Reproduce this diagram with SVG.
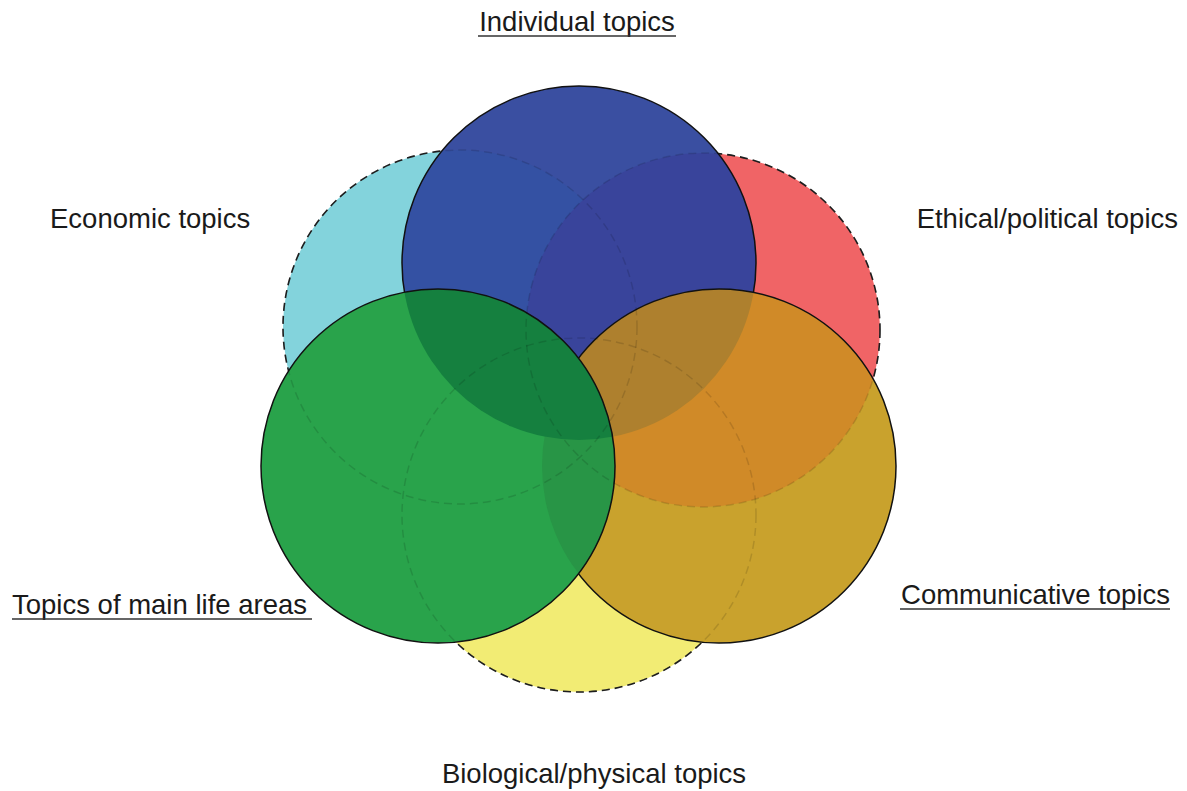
<svg xmlns="http://www.w3.org/2000/svg" width="1187" height="791" viewBox="0 0 1187 791">
<defs>
<clipPath id="cBlue"><circle cx="579" cy="263" r="177"/></clipPath>
<clipPath id="cOrange"><circle cx="719" cy="466" r="177"/></clipPath>
<clipPath id="cGreen"><circle cx="438" cy="466" r="177"/></clipPath>
</defs>
<style>
.dash{stroke:#222;stroke-width:1.6;stroke-dasharray:8 5}
.ghost{fill:none;stroke:#000;stroke-opacity:0.13;stroke-width:1.5;stroke-dasharray:8 5}
.edge{fill:none;stroke:#111;stroke-width:1.5}
.lbl{font-family:"Liberation Sans",Arial,sans-serif;font-size:27.5px;fill:#1a1a1a}
.ul{stroke:#333;stroke-width:1.6}
</style>
<rect width="1187" height="791" fill="#fff"/>
<g id="economic"><circle cx="460" cy="327" r="177" fill="#83D3DC" class="dash"/></g>
<g id="ethical"><circle cx="703" cy="330" r="177" fill="#F06466" class="dash"/></g>
<g id="biological"><circle cx="579" cy="515" r="177" fill="#F2EC74" class="dash"/></g>
<g id="individual">
<circle cx="579" cy="263" r="177" fill="#3A4FA1"/>
<circle cx="460" cy="327" r="177" fill="#3451A3" clip-path="url(#cBlue)"/>
<circle cx="703" cy="330" r="177" fill="#39449B" clip-path="url(#cBlue)"/>
<circle cx="579" cy="263" r="177" class="edge"/>
</g>
<g id="communicative">
<circle cx="719" cy="466" r="177" fill="#C9A22D"/>
<circle cx="703" cy="330" r="177" fill="#D08A28" clip-path="url(#cOrange)"/>
<circle cx="579" cy="263" r="177" fill="#AE802E" clip-path="url(#cOrange)"/>
<circle cx="719" cy="466" r="177" class="edge"/>
</g>
<g id="mainlife">
<circle cx="438" cy="466" r="177" fill="#29A34B"/>
<circle cx="719" cy="466" r="177" fill="#289546" clip-path="url(#cGreen)"/>
<circle cx="579" cy="263" r="177" fill="#15803F" clip-path="url(#cGreen)"/>
<circle cx="438" cy="466" r="177" class="edge"/>
</g>
<g id="hidden-outlines">
<circle cx="460" cy="327" r="177" class="ghost"/>
<circle cx="703" cy="330" r="177" class="ghost"/>
<circle cx="579" cy="515" r="177" class="ghost"/>
</g>
<g id="connectors"></g>
<g id="labels">
<text class="lbl" x="577" y="31" text-anchor="middle">Individual topics</text>
<line class="ul" x1="478" y1="36" x2="676" y2="36"/>
<text class="lbl" x="50" y="228">Economic topics</text>
<text class="lbl" x="1178" y="228" text-anchor="end">Ethical/political topics</text>
<text class="lbl" x="12" y="614">Topics of main life areas</text>
<line class="ul" x1="12" y1="619" x2="312" y2="619"/>
<text class="lbl" x="1170" y="604" text-anchor="end">Communicative topics</text>
<line class="ul" x1="900" y1="609" x2="1170" y2="609"/>
<text class="lbl" x="594" y="783" text-anchor="middle">Biological/physical topics</text>
</g>
</svg>
